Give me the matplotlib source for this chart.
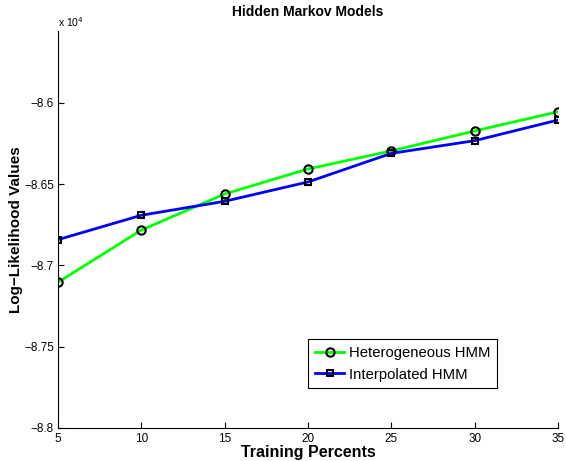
import numpy as np
import matplotlib
matplotlib.use("Agg")
import matplotlib.pyplot as plt
from matplotlib.ticker import FuncFormatter

plt.rcParams['font.family'] = ['Liberation Sans', 'DejaVu Sans']

# data
percents = [5, 10, 15, 20, 25, 30, 35]
hetero = [-87103, -86782, -86560, -86406, -86295, -86172, -86054]
interp = [-86841, -86691, -86605, -86486, -86310, -86232, -86105]

fig = plt.figure(figsize=(5.66, 4.61), dpi=100)
ax = fig.add_axes([0.1025, 0.0716, 0.8834, 0.8612])

ax.plot(percents, hetero, color='#00ff00', lw=2, marker='o', ms=6,
        mfc='none', mec='black', mew=1.5, label='Heterogeneous HMM')
ax.plot(percents, interp, color='#0000ff', lw=2, marker='s', ms=5,
        mfc='none', mec='black', mew=1.5, label='Interpolated HMM')

ax.set_xlim(5, 35)
ax.set_ylim(-88000, -85557)
ax.set_xticks(percents)
ax.set_yticks([-88000, -87500, -87000, -86500, -86000])
ax.yaxis.set_major_formatter(FuncFormatter(lambda v, p: ('%g' % (v / 1e4)).replace('-', '\u2212')))
ax.tick_params(direction='in', length=4, labelsize=8.5, width=0.8)
ax.tick_params(axis='y', pad=3)
for s in ['top', 'right']:
    ax.spines[s].set_visible(False)
for s in ['left', 'bottom']:
    ax.spines[s].set_linewidth(0.8)

ax.text(0.0, 1.005, 'x 10$^{4}$', transform=ax.transAxes, fontsize=7.5,
        ha='left', va='bottom')

ax.set_title('Hidden Markov Models', fontsize=10, fontweight='bold', pad=11)
ax.set_xlabel('Training Percents', fontsize=11.5, fontweight='bold', labelpad=0)
ax.set_ylabel('Log\u2212Likelihood Values', fontsize=11, fontweight='bold', labelpad=1)

leg = ax.legend(loc='lower left', bbox_to_anchor=(0.5, 0.1), fontsize=10.7,
                handlelength=2.0, handletextpad=0.3, borderpad=0.45,
                labelspacing=0.5, fancybox=False, framealpha=1, borderaxespad=0)
leg.get_frame().set_edgecolor('black')
leg.get_frame().set_linewidth(0.8)

fig.savefig('out.png', dpi=100)
